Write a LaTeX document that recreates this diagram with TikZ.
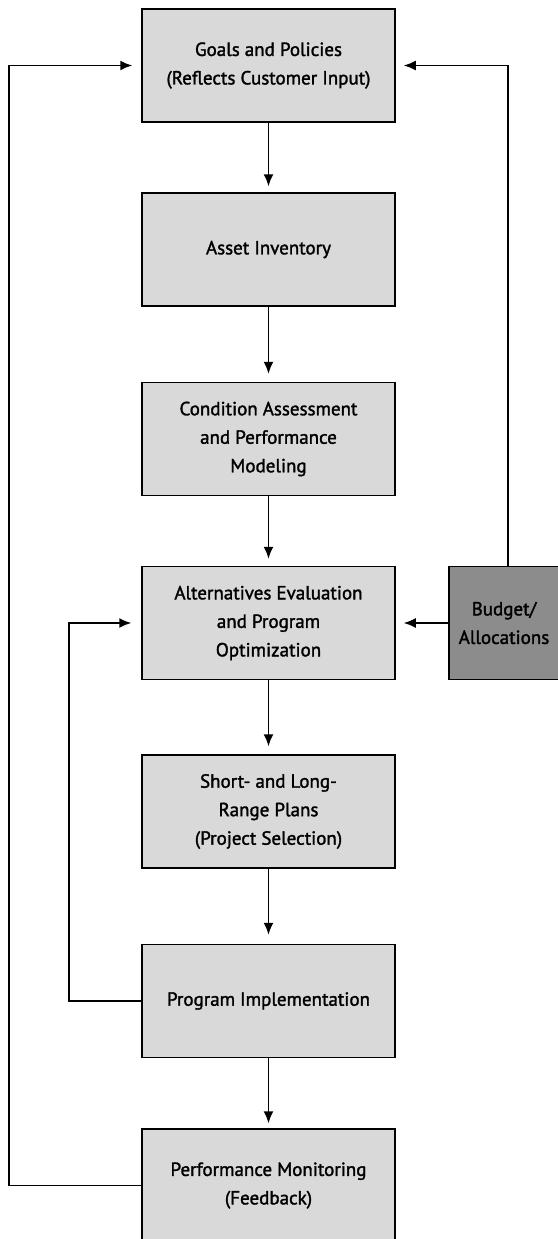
\documentclass[tikz,border=0pt]{standalone}
\usepackage{fontspec}
\setmainfont{PT Sans}
\newfontfamily\boxfont{PT Sans}[FakeBold=1.6]
\usetikzlibrary{arrows.meta}

\tikzset{
  stagebox/.style={draw, line width=1.5pt, fill=black!15, minimum width=253pt,
    minimum height=113pt, align=center, inner sep=0pt,
    font=\boxfont\fontsize{19}{28.5}\selectfont},
  budgetbox/.style={stagebox, fill=black!45, minimum width=110pt},
  arr/.style={line width=1.6pt, -{Latex[length=12pt,width=10pt]}}
}

\begin{document}
\begin{tikzpicture}[x=1pt, y=-1pt]
	\useasboundingbox (0,0) rectangle (557,1239);

	\node [stagebox] (goals) at (268.5,65.5) {Goals and Policies\\(Reflects Customer Input)};
	\node [stagebox] (asset) at (268.5,249.5) {Asset Inventory};
	\node [stagebox] (cond) at (268.5,439) {Condition Assessment\\and Performance\\Modeling};
	\node [stagebox] (alt) at (268.5,623) {Alternatives Evaluation\\and Program\\Optimization};
	\node [stagebox] (plans) at (268.5,811.5) {Short- and Long-\\Range Plans\\(Project Selection)};
	\node [stagebox] (impl) at (268.5,1001) {Program Implementation};
	\node [stagebox] (monit) at (268.5,1185.5) {Performance Monitoring\\(Feedback)};
	\node [budgetbox] (budget) at (504,623) {Budget/\\Allocations};

	\coordinate (outer) at (9,0);
	\coordinate (inner) at (69,0);
	\coordinate (right) at (508,0);

	\draw [arr, shorten >=6pt] (goals) -- (asset);
	\draw [arr, shorten >=8pt] (asset) -- (cond);
	\draw [arr, shorten >=7pt] (cond) -- (alt);
	\draw [arr, shorten >=8pt] (alt) -- (plans);
	\draw [arr, shorten >=9pt] (plans) -- (impl);
	\draw [arr, shorten >=5pt] (impl) -- (monit);

	\draw [arr, shorten >=8pt] (budget) -- (alt);
	\draw [arr, shorten >=8pt] (budget.north -| right) |- (goals.east);
	\draw [arr, shorten >=10pt] (impl.west) -- (impl.west -| inner) |- (alt.west);
	\draw [arr, shorten >=9pt] (monit.west) -- (monit.west -| outer) |- (goals.west);
\end{tikzpicture}
\end{document}
